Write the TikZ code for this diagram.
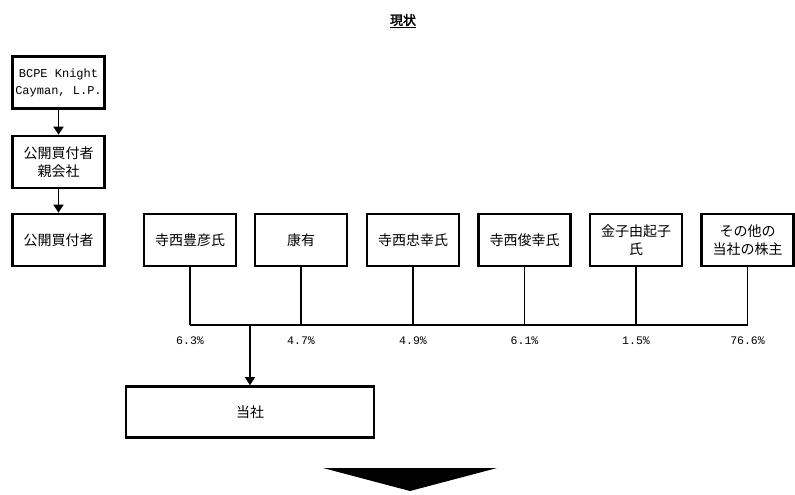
\documentclass[tikz,border=0pt]{standalone}
\usepackage{fontspec}
\newfontfamily\jp{Noto Sans CJK JP}
\newfontfamily\jpbold[FakeBold=2]{Noto Sans CJK JP}
\setmonofont{Liberation Mono}
\usetikzlibrary{arrows.meta}

\begin{document}
\begin{tikzpicture}[x=1pt, y=-1pt,
    box/.style={draw, line width=2.6pt, minimum width=92pt, minimum height=52pt,
      inner sep=1pt, align=center, font=\jp\fontsize{14}{18}\selectfont},
    pct/.style={font=\ttfamily\fontsize{11.5}{13}\selectfont},
    arr/.style={-{Triangle[length=8pt, width=10pt]}, line width=1.6pt}]
  \useasboundingbox (0, 0) rectangle (795, 495);

  \node[font=\jpbold\fontsize{13}{16}\selectfont] (title) at (403, 21) {\underline{現状}};

  \node[box, font=\ttfamily\fontsize{12}{17}\selectfont] (knight) at (58.5, 82.5) {BCPE Knight\\Cayman, L.P.};
  \node[box] (parent) at (58.5, 162) {公開買付者\\親会社};
  \node[box] (bidder) at (58.5, 240) {公開買付者};

  \draw[arr] (knight) -- (parent);
  \draw[arr] (parent) -- (bidder);

  \path (190, 325) coordinate (busl);
  \path (747.5, 325) coordinate (busr);
  \draw[line width=1.1pt] (busl) -- (busr);

  \foreach \name/\x/\label/\share in {
      toyo/190/寺西豊彦氏/6.3\%,
      kou/301/康有/4.7\%,
      tada/413/寺西忠幸氏/4.9\%,
      toshi/524.5/寺西俊幸氏/6.1\%,
      kane/636/金子由起子\\氏/1.5\%,
      other/747.5/その他の\\当社の株主/76.6\%} {
    \node[box] (\name) at (\x, 240) {\label};
    \path (\x, 325) coordinate (\name-bus);
    \draw[line width=1.1pt] (\name) -- (\name-bus);
    \node[pct] (\name-pct) at (\x, 341) {\share};
  }

  \node[box, minimum width=248pt, minimum height=51pt] (company) at (250, 412) {当社};
  \path (250, 325) coordinate (down);
  \draw[arr, line width=1.1pt] (down) -- (company);

  \fill[line join=round] (323, 468) -- (497, 468) -- (410, 491) -- cycle;
\end{tikzpicture}
\end{document}
